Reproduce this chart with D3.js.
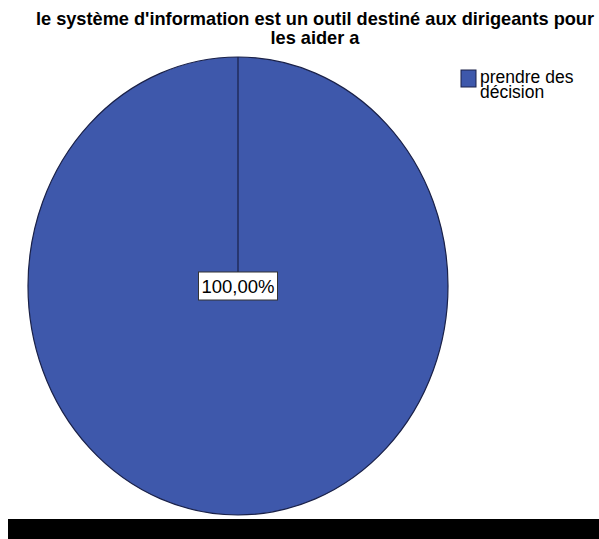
<!DOCTYPE html>
<html><head><meta charset="utf-8">
<script src="https://cdn.jsdelivr.net/npm/d3@7"></script>
<style>body{margin:0;background:#fff}svg{display:block}</style>
</head><body>
<script>
const titleLines = ["le système d'information est un outil destiné aux dirigeants pour", "les aider a"];
const categories = ["prendre des décision"];
const legendLines = ["prendre des", "décision"];
const values = [100];
const labels = ["100,00%"];
const colors = ["#3e58ab"];

const W = 599, H = 539;
const svg = d3.select("body").append("svg").attr("width", W).attr("height", H);

// title
const t = svg.append("text").attr("text-anchor", "middle")
  .attr("font-family", "Liberation Sans, Arial, sans-serif").attr("font-weight", "bold")
  .attr("font-size", 18.2).attr("fill", "#000");
titleLines.forEach((l, i) => t.append("tspan").attr("x", 315).attr("y", 25 + i * 19).text(l));

// pie (elliptical)
const cx = 238, cy = 286, rx = 210, ry = 229;
const pie = d3.pie().sort(null).value(d => d)(values);
const arc = d3.arc().innerRadius(0).outerRadius(rx);
const g = svg.append("g").attr("transform", `translate(${cx},${cy}) scale(1,${ry / rx})`);
g.selectAll("path").data(pie).join("path")
  .attr("d", arc).attr("fill", (d, i) => colors[i])
  .attr("stroke", "#1a2148").attr("stroke-width", 1.2)
  .attr("vector-effect", "non-scaling-stroke");
pie.forEach(d => {
  g.append("line").attr("x1", 0).attr("y1", 0)
    .attr("x2", rx * Math.sin(d.startAngle)).attr("y2", -rx * Math.cos(d.startAngle))
    .attr("stroke", "#1a2148").attr("stroke-width", 1.2).attr("vector-effect", "non-scaling-stroke");
});

// label
const lab = svg.append("g").attr("transform", `translate(${cx},${cy})`);
const lt = lab.append("text").attr("text-anchor", "middle").attr("dy", "0.36em")
  .attr("font-family", "Liberation Sans, Arial, sans-serif").attr("font-size", 18.5).text(labels[0]);
const bb = lt.node().getBBox();
lab.insert("rect", "text").attr("x", -39.5).attr("y", -14).attr("width", 79).attr("height", 28)
  .attr("fill", "#fff").attr("stroke", "#333").attr("stroke-width", 1);

// legend
const lg = svg.append("g").attr("transform", "translate(461,70)");
lg.append("rect").attr("width", 15).attr("height", 17).attr("fill", colors[0]).attr("stroke", "#1a2148").attr("stroke-width", 1);
const ltxt = lg.append("text").attr("font-family", "Liberation Sans, Arial, sans-serif").attr("font-size", 17.5).attr("fill", "#000");
legendLines.forEach((l, i) => ltxt.append("tspan").attr("x", 19).attr("y", 12.5 + i * 15.5).text(l));

// bottom black bar
svg.append("rect").attr("x", 8).attr("y", 519).attr("width", W - 8).attr("height", H - 519).attr("fill", "#000");
</script>
</body></html>
